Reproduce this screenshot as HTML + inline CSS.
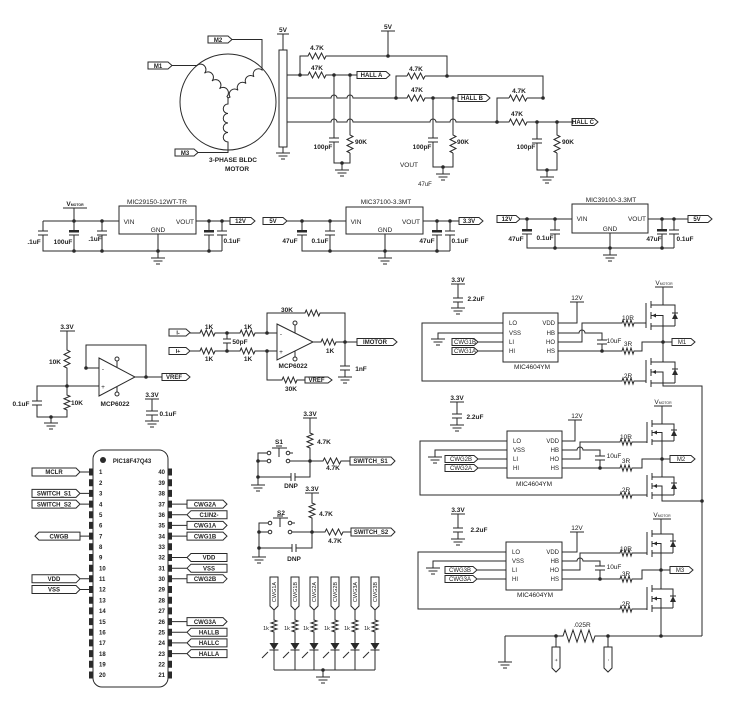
<!DOCTYPE html>
<html><head><meta charset="utf-8"><style>html,body{margin:0;padding:0;background:#fff}svg{display:block}</style></head>
<body>
<svg width="740" height="711" viewBox="0 0 740 711" xmlns="http://www.w3.org/2000/svg">
<rect width="740" height="711" fill="#fff"/>
<g fill="none" stroke="#2a2a2a" stroke-width="1">
<!-- MOTOR -->
<circle cx="228" cy="102" r="48"/>
<path d="M148 62H168L172 65.5L168 69H148Z"/>
<path d="M172 65.5H197a5.4 5.4 0 0 1 7.5 7.75a5.4 5.4 0 0 1 7.5 7.75a5.4 5.4 0 0 1 7.5 7.75a5.4 5.4 0 0 1 7.5 7.75L228 98"/>
<path d="M208 36H228L232 39.5L228 43H208Z"/>
<path d="M232 39.5H262V70a5.3 5.3 0 0 0 -8 6.75a5.3 5.3 0 0 0 -8 6.75a5.3 5.3 0 0 0 -8 6.75a5.3 5.3 0 0 0 -8 6.75L228 98"/>
<path d="M228 98V104a4.75 4.75 0 0 0 0 9.5a4.75 4.75 0 0 0 0 9.5a4.75 4.75 0 0 0 0 9.5a4.75 4.75 0 0 0 0 9.5V152.5H198"/>
<path d="M175 149H194L198 152.5L194 156H175Z"/>
<rect x="279" y="50" width="8" height="97"/>
<path d="M283 34V50M277 34H289M283 147V153M276 153h14M278.5 156h9M281 159h4"/>
<!-- HALL network -->
<path d="M287 75H308l1.5 -3l3 6l3 -6l3 6l3 -6l3 6l1.5 -3H357"/>
<path d="M300 75V56H308l1.5 -3l3 6l3 -6l3 6l3 -6l3 6l1.5 -3H447V76H425"/>
<path d="M407 76l1.5 -3l3 6l3 -6l3 6l3 -6l3 6l1.5 -3M407 76H396V98"/>
<path d="M447 76H543V98H527M509 98l1.5 -3l3 6l3 -6l3 6l3 -6l3 6l1.5 -3M509 98H497V122"/>
<path d="M388 31V56M381 31H395"/>
<path d="M287 98H331a3 3 0 0 1 6 0H347a3 3 0 0 1 6 0H407l1.5 -3l3 6l3 -6l3 6l3 -6l3 6l1.5 -3H458"/>
<path d="M287 122H331a3 3 0 0 1 6 0H347a3 3 0 0 1 6 0H430a3 3 0 0 1 6 0H450a3 3 0 0 1 6 0H509l1.5 -3l3 6l3 -6l3 6l3 -6l3 6l1.5 -3H572"/>
<path d="M357 71.5H386L390 75L386 78.5H357Z"/>
<path d="M458 94.5H486L490 98L486 101.5H458Z"/>
<path d="M572 118.5H594L598 122L594 125.5H572Z"/>
<!-- A filter -->
<path d="M334 75V138M329 138h10M329 142h10M334 142V163H350V153M350 75V135l3 1.5l-6 3l6 3l-6 3l6 3l-6 3l3 1.5M342 163V170M335 170h14M337.5 173h9M340 176h4"/>
<!-- B filter -->
<path d="M433 98V138M428 138h10M428 142h10M433 142V167H453V153M453 98V135l3 1.5l-6 3l6 3l-6 3l6 3l-6 3l3 1.5M443 167V174M436 174h14M438.5 177h9M441 180h4"/>
<!-- C filter -->
<path d="M537 122V139M532 139h10M532 143h10M537 143V170H557V153M557 122V135l3 1.5l-6 3l6 3l-6 3l6 3l-6 3l3 1.5M547 170V177M540 177h14M542.5 180h9M545 183h4"/>

<!-- REG1 -->
<rect x="119" y="206" width="77" height="28"/>
<path d="M43 221H119M74 208V221M63 208H87M196 221H230"/>
<path d="M43 221V231M38 231h10M38 235h10M43 235V251H222"/>
<path d="M74 221V231M74 235V251M69 235h10"/>
<path d="M102 221V231M97 231h10M97 235h10M102 235V251"/>
<path d="M209 221V231M209 235V251M204 235h10"/>
<path d="M222 221V231M217 231h10M217 235h10M222 235V251"/>
<path d="M158 234V258M151 258h14M153.5 261h9M156 264h4"/>
<path d="M230 217.5H251L255 221L251 224.5H230Z"/>
<!-- REG2 -->
<path d="M263 217.5H283L287 221L283 224.5H263Z"/>
<rect x="346" y="207" width="77" height="27"/>
<path d="M287 221H346M423 221H459"/>
<path d="M459 217.5H479L483 221L479 224.5H459Z"/>
<path d="M302 221V231M302 235V251H450M297 235h10"/>
<path d="M330 221V231M325 231h10M325 235h10M330 235V251"/>
<path d="M437 221V231M437 235V251M432 235h10"/>
<path d="M450 221V231M445 231h10M445 235h10M450 235V251"/>
<path d="M385 234V258M378 258h14M380.5 261h9M383 264h4"/>
<!-- REG3 -->
<path d="M497 215.5H516L520 219L516 222.5H497Z"/>
<rect x="572" y="204" width="76" height="29"/>
<path d="M520 219H572M648 219H688"/>
<path d="M688 215.5H708L712 219L708 222.5H688Z"/>
<path d="M527 219V230M527 234V248H674M522 234h10"/>
<path d="M555 219V230M550 230h10M550 234h10M555 234V248"/>
<path d="M662 219V230M662 234V248M657 234h10"/>
<path d="M674 219V230M669 230h10M669 234h10M674 234V248"/>
<path d="M610 233V255M603 255h14M605.5 258h9M608 261h4"/>

<!-- OPAMP VREF -->
<path d="M99 358L135 377L99 396Z"/>
<path d="M117 367V361M117 387V392"/>
<circle cx="117" cy="359" r="2"/><circle cx="117" cy="394" r="2"/>
<path d="M135 377H162M146 377V345H86V368H99M67 386H99"/>
<path d="M162 373.5H186L190 377L186 380.5H162Z"/>
<path d="M60 331H75M67 331V350l3 1.5l-6 3l6 3l-6 3l6 3l-6 3l3 1.5V395l3 1.25l-6 2.5l6 2.5l-6 2.5l6 2.5l-6 2.5l3 1.25V417H37V405M32 405h10M32 401h10M37 401V386H67"/>
<path d="M51 417V423M44 423h14M46.5 426h9M49 429h4"/>
<path d="M145 399H159M152 399V411M146 411h12M146 415h12M152 415V421M145 421h14M147.5 424h9M150 427h4"/>
<!-- OPAMP DIFF -->
<path d="M277 324L313 342L277 360Z"/>
<path d="M295 333V325M295 351V357"/>
<circle cx="295" cy="323" r="2"/><circle cx="295" cy="359" r="2"/>
<path d="M169 329H186L190 332.5L186 336H169Z"/>
<path d="M169 347.5H186L190 351L186 354.5H169Z"/>
<path d="M190 333H200l1.25 -3l2.5 6l2.5 -6l2.5 6l2.5 -6l2.5 6l1.25 -3H240l1.25 -3l2.5 6l2.5 -6l2.5 6l2.5 -6l2.5 6l1.25 -3H277"/>
<path d="M190 351H200l1.25 -3l2.5 6l2.5 -6l2.5 6l2.5 -6l2.5 6l1.25 -3H240l1.25 -3l2.5 6l2.5 -6l2.5 6l2.5 -6l2.5 6l1.25 -3H277"/>
<path d="M227 333V339M223 339h8M223 343h8M227 343V351"/>
<path d="M267 333V313H305l1.25 -3l2.5 6l2.5 -6l2.5 6l2.5 -6l2.5 6l1.25 -3H345V342"/>
<path d="M313 342H321l1.25 -3l2.5 6l2.5 -6l2.5 6l2.5 -6l2.5 6l1.25 -3H357"/>
<path d="M357 338.5H393L397 342L393 345.5H357Z"/>
<path d="M345 342V366M340 366h10M340 370h10M345 370V377M338 377h14M340.5 380h9M343 383h4"/>
<path d="M267 351V380H282l1.25 -3l2.5 6l2.5 -6l2.5 6l2.5 -6l2.5 6l1.25 -3H305"/>
<path d="M305 377H328L332 380L328 383H305Z"/>

<!-- SWITCH S1 -->
<path d="M303 418H317M310 418V433l3 1.25l-6 2.5l6 2.5l-6 2.5l6 2.5l-6 2.5l3 1.25V477H295M291 477H258V453H267M258 461H267M290 453H293M290 461H323l1.5 -3l3 6l3 -6l3 6l3 -6l3 6l1.5 -3H350"/>
<path d="M291 473V481M295 473V481"/>
<path d="M272 448H287M279 448V457M276 446H282"/>
<circle cx="269" cy="453" r="1.8"/><circle cx="288" cy="453" r="1.8"/><circle cx="269" cy="461" r="1.8"/><circle cx="288" cy="461" r="1.8"/>
<path d="M350 457H391L395 461L391 465H350Z"/>
<path d="M258 477V485M251 485h14M253.5 488h9M256 491h4"/>
<!-- SWITCH S2 -->
<path d="M305 493H319M312 493V503l3 1.25l-6 2.5l6 2.5l-6 2.5l6 2.5l-6 2.5l3 1.25V548H296M292 548H259V523H268M259 532H268M292 523H295M292 532H325l1.5 -3l3 6l3 -6l3 6l3 -6l3 6l1.5 -3H351"/>
<path d="M292 544V552M296 544V552"/>
<path d="M273 518H288M280 518V527M277 516H283"/>
<circle cx="270" cy="523" r="1.8"/><circle cx="290" cy="523" r="1.8"/><circle cx="270" cy="532" r="1.8"/><circle cx="290" cy="532" r="1.8"/>
<path d="M351 528H391L395 532L391 536H351Z"/>
<path d="M259 548V557M252 557h14M254.5 560h9M257 563h4"/>

<!-- LEDs -->
<path d="M270 577H278V606L274 610L270 606Z M291 577H299V606L295 610L291 606Z M310 577H318V606L314 610L310 606Z M331 577H339V606L335 610L331 606Z M351 577H359V606L355 610L351 606Z M371 577H379V606L375 610L371 606Z"/>
<path d="M274 610V620l3 1l-6 2l6 2l-6 2l6 2l-6 2l3 1V643M269.5 650h9M274 650V670"/>
<path d="M295 610V620l3 1l-6 2l6 2l-6 2l6 2l-6 2l3 1V643M290.5 650h9M295 650V670"/>
<path d="M314 610V620l3 1l-6 2l6 2l-6 2l6 2l-6 2l3 1V643M309.5 650h9M314 650V670"/>
<path d="M335 610V620l3 1l-6 2l6 2l-6 2l6 2l-6 2l3 1V643M330.5 650h9M335 650V670"/>
<path d="M355 610V620l3 1l-6 2l6 2l-6 2l6 2l-6 2l3 1V643M350.5 650h9M355 650V670"/>
<path d="M375 610V620l3 1l-6 2l6 2l-6 2l6 2l-6 2l3 1V643M370.5 650h9M375 650V670"/>
<path d="M274 670H375M323 670V677M316 677h14M318.5 680h9M321 683h4"/>
<path d="M268 652l-4 4M266 654l-4 4M289 652l-4 4M287 654l-4 4M308 652l-4 4M306 654l-4 4M329 652l-4 4M327 654l-4 4M349 652l-4 4M347 654l-4 4M369 652l-4 4M367 654l-4 4"/>

<!-- PIC -->
<rect x="93" y="450" width="75" height="237" rx="9"/>
<path d="M32 468H76L80 472L76 476H32Z M80 472H89.5"/>
<path d="M32 489.4H76L80 493.4L76 497.4H32Z M80 493.4H89.5"/>
<path d="M32 500.1H76L80 504.1L76 508.1H32Z M80 504.1H89.5"/>
<path d="M80 532.1H39L35 536.1L39 540.1H80Z M80 536.1H89.5"/>
<path d="M32 574.8H76L80 578.8L76 582.8H32Z M80 578.8H89.5"/>
<path d="M32 585.5H76L80 589.5L76 593.5H32Z M80 589.5H89.5"/>
<path d="M187 500.1H223L227 504.1L223 508.1H187Z M171.5 504.1H187"/>
<path d="M227 510.7H191L187 514.7L191 518.7H227Z M171.5 514.7H187"/>
<path d="M187 521.4H223L227 525.4L223 529.4H187Z M171.5 525.4H187"/>
<path d="M187 532.1H223L227 536.1L223 540.1H187Z M171.5 536.1H187"/>
<path d="M227 553.5H191L187 557.5L191 561.5H227Z M171.5 557.5H187"/>
<path d="M227 564.2H191L187 568.2L191 572.2H227Z M171.5 568.2H187"/>
<path d="M187 574.8H223L227 578.8L223 582.8H187Z M171.5 578.8H187"/>
<path d="M187 617.6H223L227 621.6L223 625.6H187Z M171.5 621.6H187"/>
<path d="M227 628.3H191L187 632.3L191 636.3H227Z M171.5 632.3H187"/>
<path d="M227 638.9H191L187 642.9L191 646.9H227Z M171.5 642.9H187"/>
<path d="M227 649.6H191L187 653.6L191 657.6H227Z M171.5 653.6H187"/>

<!-- DRIVER 1 -->
<path d="M451 284H465M458 284V298M453 298h10M453 302h10M458 302V308M451 308h14M453.5 311h9M456 314h4"/>
<rect x="503" y="313" width="55" height="49"/>
<path d="M503 323H422V381H622l1 -3l2 6l2 -6l2 6l2 -6l2 6l1 -3H646"/>
<path d="M503 333H438V339M431 339h14M433.5 342h9M436 345h4"/>
<path d="M452 338.5H474L478 342L474 345.5H452Z M478 342H503"/>
<path d="M452 347.5H474L478 351L474 354.5H452Z M478 351H503"/>
<path d="M558 323H577V302M570 302H584"/>
<path d="M558 342H582V323H622l1 -3l2 6l2 -6l2 6l2 -6l2 6l1 -3H646"/>
<path d="M558 333H579a3 3 0 0 1 6 0H602V340M597 340h10M597 344h10M602 344V351"/>
<path d="M558 351H622l1 -3l2 6l2 -6l2 6l2 -6l2 6l1 -3H642V342H672"/>
<path d="M672 338.5H691L695 342L691 345.5H672Z"/>
<path d="M646 303V328M651 301V308M651 312V319M651 323V330M651 305H675V326M663 305V287M655 287H673M651 326H675M663 326V342M651 315.5H663V326M672 313H678"/>
<path d="M646 360V383M651 358V365M651 369V376M651 380V387M651 362H675V383M663 362V342M651 383H675M663 383V386H702V636M651 372H663V383M672 369H678"/>
<!-- DRIVER 2 -->
<path d="M450 402H464M457 402V414M452 414h10M452 418h10M457 418V425M450 425h14M452.5 428h9M455 431h4"/>
<rect x="507" y="431" width="55" height="47"/>
<path d="M507 441H420V495H620l1 -3l2 6l2 -6l2 6l2 -6l2 6l1 -3H647"/>
<path d="M507 450H435V457M428 457h14M430.5 460h9M433 463h4"/>
<path d="M445 455.5H474L478 459L474 462.5H445Z M478 459H507"/>
<path d="M445 464.5H474L478 468L474 471.5H445Z M478 468H507"/>
<path d="M562 441H575V420M568 420H582"/>
<path d="M562 459H580V442H620l1 -3l2 6l2 -6l2 6l2 -6l2 6l1 -3H647"/>
<path d="M562 450H577a3 3 0 0 1 6 0H600V456M595 456h10M595 460h10M600 460V468"/>
<path d="M562 468H620l1 -3l2 6l2 -6l2 6l2 -6l2 6l1 -3H642V459H670"/>
<path d="M670 455.5H691L695 459L691 462.5H670Z"/>
<path d="M647 422V443M652 420V427M652 430V436M652 439V445M652 424H674V441M662 424V406M654 406H672M652 441H674M662 441V459M652 432.5H662V441M671 430H677"/>
<path d="M647 475V497M652 473V480M652 483V489M652 492V499M652 477H674V495M662 477V459M652 495H674M662 495V501H702M652 486H662V495M671 483H677"/>
<!-- DRIVER 3 -->
<path d="M451 514H465M458 514V528M453 528h10M453 532h10M458 532V539M451 539h14M453.5 542h9M456 545h4"/>
<rect x="506" y="542" width="56" height="48"/>
<path d="M506 552H418V609H620l1 -3l2 6l2 -6l2 6l2 -6l2 6l1 -3H647"/>
<path d="M506 561H433V568M426 568h14M428.5 571h9M431 574h4"/>
<path d="M445 566.5H473L477 570L473 573.5H445Z M477 570H506"/>
<path d="M445 575.5H473L477 579L473 582.5H445Z M477 579H506"/>
<path d="M562 552H577V532M570 532H584"/>
<path d="M562 570H580V553H620l1 -3l2 6l2 -6l2 6l2 -6l2 6l1 -3H647"/>
<path d="M562 561H577a3 3 0 0 1 6 0H600V566M595 566h10M595 570h10M600 570V579"/>
<path d="M562 579H620l1 -3l2 6l2 -6l2 6l2 -6l2 6l1 -3H642V570H670"/>
<path d="M670 566.5H689L693 570L689 573.5H670Z"/>
<path d="M647 532V555M652 530V537M652 541V547M652 550V557M652 534H673V553M661 534V519M653 519H671M652 553H673M661 553V570M652 543.5H661V553M670 541H676"/>
<path d="M647 587V610M652 585V592M652 596V602M652 605V612M652 589H673V608M661 589V570M652 608H673M661 608V636M652 598.5H661V608M670 596H676"/>
<!-- shunt -->
<path d="M505 636H563l2 -6l4 12l4 -12l4 12l4 -12l4 12l4 -12l4 12l2 -6H702M505 636V662M498 662h14M500.5 665h9M503 668h4"/>
<path d="M556 636V647M608 636V647"/>
<path d="M552 647H560V668L556 672L552 668Z"/>
<path d="M604 647H612V668L608 672L604 668Z"/>
</g>

<g fill="#2a2a2a" stroke="none">
<!-- polarized plates -->
<rect x="69" y="230" width="10" height="2.5"/><rect x="204" y="230" width="10" height="2.5"/>
<rect x="297" y="230" width="10" height="2.5"/><rect x="432" y="230" width="10" height="2.5"/>
<rect x="522" y="229" width="10" height="2.5"/><rect x="657" y="229" width="10" height="2.5"/>
<!-- pic stubs -->
<path d="M89 468.5h4v7h-4zM89 479.2h4v7h-4zM89 489.9h4v7h-4zM89 500.6h4v7h-4zM89 511.2h4v7h-4zM89 521.9h4v7h-4zM89 532.6h4v7h-4zM89 543.3h4v7h-4zM89 554h4v7h-4zM89 564.7h4v7h-4zM89 575.3h4v7h-4zM89 586h4v7h-4zM89 596.7h4v7h-4zM89 607.4h4v7h-4zM89 618.1h4v7h-4zM89 628.8h4v7h-4zM89 639.4h4v7h-4zM89 650.1h4v7h-4zM89 660.8h4v7h-4zM89 671.5h4v7h-4z"/>
<path d="M168 468.5h4v7h-4zM168 479.2h4v7h-4zM168 489.9h4v7h-4zM168 500.6h4v7h-4zM168 511.2h4v7h-4zM168 521.9h4v7h-4zM168 532.6h4v7h-4zM168 543.3h4v7h-4zM168 554h4v7h-4zM168 564.7h4v7h-4zM168 575.3h4v7h-4zM168 586h4v7h-4zM168 596.7h4v7h-4zM168 607.4h4v7h-4zM168 618.1h4v7h-4zM168 628.8h4v7h-4zM168 639.4h4v7h-4zM168 650.1h4v7h-4zM168 660.8h4v7h-4zM168 671.5h4v7h-4z"/>
<circle cx="103" cy="460" r="3"/>
<!-- LED diodes -->
<path d="M269.5 643h9l-4.5 7zM290.5 643h9l-4.5 7zM309.5 643h9l-4.5 7zM330.5 643h9l-4.5 7zM350.5 643h9l-4.5 7zM370.5 643h9l-4.5 7z"/>
<!-- MOSFET diodes and arrows -->
<path d="M672 319h6l-3 -6zM672 375h6l-3 -6zM671 436h6l-3 -6zM671 489h6l-3 -6zM670 547h6l-3 -6zM670 602h6l-3 -6z"/>
<path d="M652 315.5l4 -2v4zM652 372l4 -2v4zM653 432.5l4 -2v4zM653 486l4 -2v4zM653 543.5l4 -2v4zM653 598.5l4 -2v4z"/>
<!-- junctions -->
<circle cx="300" cy="75" r="1.8"/><circle cx="334" cy="75" r="1.8"/><circle cx="350" cy="75" r="1.8"/>
<circle cx="388" cy="56" r="1.8"/><circle cx="447" cy="76" r="1.8"/><circle cx="396" cy="98" r="1.8"/>
<circle cx="433" cy="98" r="1.8"/><circle cx="453" cy="98" r="1.8"/><circle cx="543" cy="98" r="1.8"/>
<circle cx="497" cy="122" r="1.8"/><circle cx="537" cy="122" r="1.8"/><circle cx="557" cy="122" r="1.8"/>
<circle cx="342" cy="163" r="1.8"/><circle cx="443" cy="167" r="1.8"/><circle cx="547" cy="170" r="1.8"/>
<circle cx="74" cy="221" r="1.8"/><circle cx="102" cy="221" r="1.8"/><circle cx="74" cy="251" r="1.8"/><circle cx="102" cy="251" r="1.8"/>
<circle cx="158" cy="251" r="1.8"/><circle cx="209" cy="251" r="1.8"/><circle cx="209" cy="221" r="1.8"/><circle cx="222" cy="221" r="1.8"/>
<circle cx="302" cy="221" r="1.8"/><circle cx="330" cy="221" r="1.8"/><circle cx="330" cy="251" r="1.8"/><circle cx="385" cy="251" r="1.8"/>
<circle cx="437" cy="251" r="1.8"/><circle cx="437" cy="221" r="1.8"/><circle cx="450" cy="221" r="1.8"/>
<circle cx="527" cy="219" r="1.8"/><circle cx="555" cy="219" r="1.8"/><circle cx="555" cy="248" r="1.8"/><circle cx="610" cy="248" r="1.8"/>
<circle cx="662" cy="248" r="1.8"/><circle cx="662" cy="219" r="1.8"/><circle cx="674" cy="219" r="1.8"/>
<circle cx="146" cy="377" r="1.8"/><circle cx="86" cy="368" r="1.8"/><circle cx="67" cy="386" r="1.8"/><circle cx="51" cy="417" r="1.8"/>
<circle cx="227" cy="333" r="1.8"/><circle cx="227" cy="351" r="1.8"/><circle cx="267" cy="333" r="1.8"/><circle cx="267" cy="351" r="1.8"/><circle cx="345" cy="342" r="1.8"/>
<circle cx="310" cy="461" r="1.8"/><circle cx="258" cy="461" r="1.8"/><circle cx="258" cy="477" r="1.8"/>
<circle cx="312" cy="532" r="1.8"/><circle cx="259" cy="532" r="1.8"/><circle cx="259" cy="548" r="1.8"/>
<circle cx="323" cy="670" r="1.8"/>
<circle cx="602" cy="351" r="1.8"/><circle cx="663" cy="342" r="1.8"/>
<circle cx="600" cy="468" r="1.8"/><circle cx="662" cy="459" r="1.8"/><circle cx="702" cy="501" r="1.8"/>
<circle cx="600" cy="579" r="1.8"/><circle cx="661" cy="570" r="1.8"/><circle cx="661" cy="636" r="1.8"/>
<circle cx="556" cy="636" r="1.8"/><circle cx="608" cy="636" r="1.8"/>
</g>

<g font-family="Liberation Sans, Arial, sans-serif" font-size="6.5" font-weight="bold" fill="#222" text-anchor="middle">
<!-- motor -->
<text x="158" y="67.8" font-size="6">M1</text>
<text x="218" y="41.8" font-size="6">M2</text>
<text x="185" y="154.8" font-size="6">M3</text>
<text x="233" y="162">3-PHASE BLDC</text>
<text x="237" y="171">MOTOR</text>
<text x="283" y="32">5V</text>
<text x="388" y="29">5V</text>
<text x="317" y="50">4.7K</text>
<text x="317" y="70">47K</text>
<text x="416" y="71">4.7K</text>
<text x="417" y="92">47K</text>
<text x="519" y="93">4.7K</text>
<text x="517" y="116">47K</text>
<text x="371.5" y="77.2" font-size="6">HALL A</text>
<text x="472" y="100.2" font-size="6">HALL B</text>
<text x="583" y="124.2" font-size="6">HALL C</text>
<text x="323" y="149">100pF</text>
<text x="361" y="144">90K</text>
<text x="422" y="149">100pF</text>
<text x="463" y="144">90K</text>
<text x="526" y="149">100pF</text>
<text x="568" y="144">90K</text>
<text x="409" y="167" font-weight="normal">VOUT</text>
<text x="425" y="186" font-weight="normal" font-size="6">47uF</text>
<!-- regulators -->
<text x="157" y="204" font-weight="normal">MIC29150-12WT-TR</text>
<text x="129" y="224" font-weight="normal">VIN</text>
<text x="185" y="224" font-weight="normal">VOUT</text>
<text x="158" y="232" font-weight="normal">GND</text>
<text x="75" y="206">V<tspan font-size="3.5">MOTOR</tspan></text>
<text x="34" y="244">.1uF</text>
<text x="63" y="244">100uF</text>
<text x="95" y="241">.1uF</text>
<text x="232" y="243">0.1uF</text>
<text x="240.5" y="223.2" font-size="6">12V</text>
<text x="273" y="223.2" font-size="6">5V</text>
<text x="386" y="204" font-weight="normal">MIC37100-3.3MT</text>
<text x="356" y="224" font-weight="normal">VIN</text>
<text x="411" y="224" font-weight="normal">VOUT</text>
<text x="385" y="232" font-weight="normal">GND</text>
<text x="290" y="243">47uF</text>
<text x="320" y="243">0.1uF</text>
<text x="427" y="243">47uF</text>
<text x="460" y="243">0.1uF</text>
<text x="469" y="223.2" font-size="6">3.3V</text>
<text x="611" y="202" font-weight="normal">MIC39100-3.3MT</text>
<text x="582" y="221" font-weight="normal">VIN</text>
<text x="637" y="221" font-weight="normal">VOUT</text>
<text x="610" y="231" font-weight="normal">GND</text>
<text x="507" y="221.2" font-size="6">12V</text>
<text x="697" y="221.2" font-size="6">5V</text>
<text x="516" y="241">47uF</text>
<text x="545" y="240">0.1uF</text>
<text x="654" y="241">47uF</text>
<text x="685" y="241">0.1uF</text>
<!-- opamps -->
<text x="67" y="329">3.3V</text>
<text x="55" y="364">10K</text>
<text x="77" y="405">10K</text>
<text x="21" y="406">0.1uF</text>
<text x="115" y="406">MCP6022</text>
<text x="103" y="371" font-weight="normal">-</text>
<text x="103" y="389" font-weight="normal">+</text>
<text x="174" y="379.2" font-size="6">VREF</text>
<text x="152" y="397">3.3V</text>
<text x="168" y="416">0.1uF</text>
<text x="178" y="334.5" font-size="5.5">I-</text>
<text x="178" y="353.2" font-size="5.5">I+</text>
<text x="209" y="329">1K</text>
<text x="248" y="329">1K</text>
<text x="209" y="361">1K</text>
<text x="248" y="361">1K</text>
<text x="240" y="344">50pF</text>
<text x="287" y="312">30K</text>
<text x="330" y="353">1K</text>
<text x="375" y="344.2" font-size="6">IMOTOR</text>
<text x="361" y="371">1nF</text>
<text x="291" y="391">30K</text>
<text x="316.5" y="382.2" font-size="6">VREF</text>
<text x="293" y="368">MCP6022</text>
<text x="281" y="336" font-weight="normal">-</text>
<text x="281" y="354" font-weight="normal">+</text>
<!-- switches -->
<text x="310" y="416">3.3V</text>
<text x="279" y="444">S1</text>
<text x="324" y="444">4.7K</text>
<text x="333" y="470">4.7K</text>
<text x="291" y="488">DNP</text>
<text x="370.5" y="463.2" font-size="6">SWITCH_S1</text>
<text x="312" y="491">3.3V</text>
<text x="281" y="515">S2</text>
<text x="326" y="516">4.7K</text>
<text x="335" y="543">4.7K</text>
<text x="294" y="561">DNP</text>
<text x="371" y="534.2" font-size="6">SWITCH_S2</text>
<!-- LEDs -->
<g font-size="5.5" font-weight="normal">
<text transform="translate(276,592) rotate(-90)">CWG1A</text>
<text transform="translate(297,592) rotate(-90)">CWG1B</text>
<text transform="translate(316,592) rotate(-90)">CWG2A</text>
<text transform="translate(337,592) rotate(-90)">CWG2B</text>
<text transform="translate(357,592) rotate(-90)">CWG3A</text>
<text transform="translate(377,592) rotate(-90)">CWG3B</text>
<text x="266" y="630">1k</text><text x="287" y="630">1k</text><text x="306" y="630">1k</text>
<text x="327" y="630">1k</text><text x="347" y="630">1k</text><text x="367" y="630">1k</text>
</g>
<!-- PIC -->
<text x="132" y="463" font-size="6">PIC18F47Q43</text>
<g font-size="6" text-anchor="start">
<text x="99" y="474.2">1</text><text x="99" y="484.9">2</text><text x="99" y="495.6">3</text><text x="99" y="506.3">4</text><text x="99" y="516.9">5</text>
<text x="99" y="527.6">6</text><text x="99" y="538.3">7</text><text x="99" y="549">8</text><text x="99" y="559.7">9</text><text x="99" y="570.4">10</text>
<text x="99" y="581">11</text><text x="99" y="591.7">12</text><text x="99" y="602.4">13</text><text x="99" y="613.1">14</text><text x="99" y="623.8">15</text>
<text x="99" y="634.5">16</text><text x="99" y="645.1">17</text><text x="99" y="655.8">18</text><text x="99" y="666.5">19</text><text x="99" y="677.2">20</text>
</g>
<g font-size="6" text-anchor="end">
<text x="165" y="474.2">40</text><text x="165" y="484.9">39</text><text x="165" y="495.6">38</text><text x="165" y="506.3">37</text><text x="165" y="516.9">36</text>
<text x="165" y="527.6">35</text><text x="165" y="538.3">34</text><text x="165" y="549">33</text><text x="165" y="559.7">32</text><text x="165" y="570.4">31</text>
<text x="165" y="581">30</text><text x="165" y="591.7">29</text><text x="165" y="602.4">28</text><text x="165" y="613.1">27</text><text x="165" y="623.8">26</text>
<text x="165" y="634.5">25</text><text x="165" y="645.1">24</text><text x="165" y="655.8">23</text><text x="165" y="666.5">22</text><text x="165" y="677.2">21</text>
</g>
<g font-size="6">
<text x="54" y="474.2">MCLR</text>
<text x="54" y="495.6">SWITCH_S1</text>
<text x="54" y="506.3">SWITCH_S2</text>
<text x="59" y="538.3">CWGB</text>
<text x="54" y="581">VDD</text>
<text x="54" y="591.7">VSS</text>
<text x="205" y="506.3">CWG2A</text>
<text x="209" y="516.9">C1IN2-</text>
<text x="205" y="527.6">CWG1A</text>
<text x="205" y="538.3">CWG1B</text>
<text x="209" y="559.7">VDD</text>
<text x="209" y="570.4">VSS</text>
<text x="205" y="581">CWG2B</text>
<text x="205" y="623.8">CWG3A</text>
<text x="209" y="634.5">HALLB</text>
<text x="209" y="645.1">HALLC</text>
<text x="209" y="655.8">HALLA</text>
</g>
<!-- drivers -->
<text x="458" y="282">3.3V</text>
<text x="476" y="301">2.2uF</text>
<text x="577" y="300" font-weight="normal">12V</text>
<text x="628" y="320" font-weight="normal">10R</text>
<text x="628" y="346" font-weight="normal">3R</text>
<text x="628" y="378" font-weight="normal">2R</text>
<text x="614" y="343" font-weight="normal">10uF</text>
<text x="532" y="369" font-weight="normal">MIC4604YM</text>
<text x="465" y="344.2" font-size="6" font-weight="normal">CWG1B</text>
<text x="465" y="353.2" font-size="6" font-weight="normal">CWG1A</text>
<text x="682" y="344.2" font-size="6" font-weight="normal">M1</text>
<text x="664" y="285" font-weight="normal">V<tspan font-size="3.5">MOTOR</tspan></text>
<g font-weight="normal" text-anchor="start" font-size="6">
<text x="509" y="325">LO</text><text x="509" y="335">VSS</text><text x="509" y="344">LI</text><text x="509" y="353">HI</text>
<text x="513" y="443">LO</text><text x="513" y="452">VSS</text><text x="513" y="461">LI</text><text x="513" y="470">HI</text>
<text x="512" y="554">LO</text><text x="512" y="563">VSS</text><text x="512" y="572">LI</text><text x="512" y="581">HI</text>
</g>
<g font-weight="normal" text-anchor="end" font-size="6">
<text x="555" y="325">VDD</text><text x="555" y="335">HB</text><text x="555" y="344">HO</text><text x="555" y="353">HS</text>
<text x="559" y="443">VDD</text><text x="559" y="452">HB</text><text x="559" y="461">HO</text><text x="559" y="470">HS</text>
<text x="559" y="554">VDD</text><text x="559" y="563">HB</text><text x="559" y="572">HO</text><text x="559" y="581">HS</text>
</g>
<text x="457" y="400">3.3V</text>
<text x="475" y="419">2.2uF</text>
<text x="577" y="418" font-weight="normal">12V</text>
<text x="626" y="439" font-weight="normal">10R</text>
<text x="626" y="463" font-weight="normal">3R</text>
<text x="626" y="492" font-weight="normal">2R</text>
<text x="614" y="458" font-weight="normal">10uF</text>
<text x="534" y="486" font-weight="normal">MIC4604YM</text>
<text x="461" y="461.2" font-size="6" font-weight="normal">CWG2B</text>
<text x="461" y="470.2" font-size="6" font-weight="normal">CWG2A</text>
<text x="681" y="461.2" font-size="6" font-weight="normal">M2</text>
<text x="663" y="404" font-weight="normal">V<tspan font-size="3.5">MOTOR</tspan></text>
<text x="458" y="512">3.3V</text>
<text x="479" y="532">2.2uF</text>
<text x="577" y="530" font-weight="normal">12V</text>
<text x="626" y="551" font-weight="normal">10R</text>
<text x="626" y="576" font-weight="normal">3R</text>
<text x="626" y="606" font-weight="normal">2R</text>
<text x="614" y="569" font-weight="normal">10uF</text>
<text x="535" y="597" font-weight="normal">MIC4604YM</text>
<text x="460" y="572.2" font-size="6" font-weight="normal">CWG3B</text>
<text x="460" y="581.2" font-size="6" font-weight="normal">CWG3A</text>
<text x="680" y="572.2" font-size="6" font-weight="normal">M3</text>
<text x="662" y="517" font-weight="normal">V<tspan font-size="3.5">MOTOR</tspan></text>
<text x="582" y="627" font-weight="normal">.025R</text>
<text transform="translate(558,660) rotate(-90)" font-size="5" font-weight="normal">+</text>
<text transform="translate(610,660) rotate(-90)" font-size="5" font-weight="normal">-</text>
</g>
</svg>
</body></html>
